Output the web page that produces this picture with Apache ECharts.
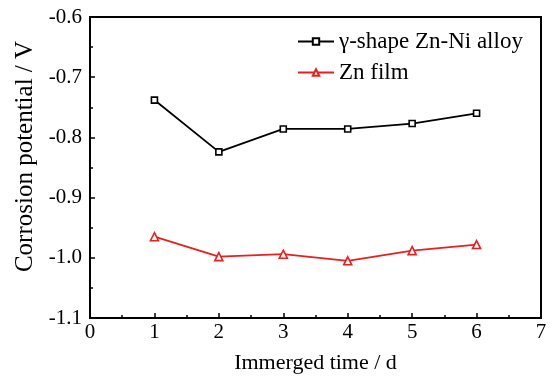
<!DOCTYPE html>
<html><head><meta charset="utf-8">
<script src="https://cdn.jsdelivr.net/npm/echarts@6/dist/echarts.min.js"></script>
<style>html,body{margin:0;padding:0;background:#fff}#c{width:552px;height:380px}</style>
</head><body><div id="c"></div>
<script>
const days = [1, 2, 3, 4, 5, 6];
const znNiAlloy = [-0.738, -0.824, -0.786, -0.786, -0.777, -0.760];
const znFilm = [-0.965, -0.998, -0.994, -1.005, -0.988, -0.978];
const seriesNames = ['\u03b3-shape Zn-Ni alloy', 'Zn film'];
const xTitle = 'Immerged time / d';
const yTitle = 'Corrosion potential / V';

const font = 'Liberation Serif';
const chart = echarts.init(document.getElementById('c'));
chart.setOption({
  backgroundColor: '#fff',
  animation: false,
  grid: {left: 90, right: 11, top: 17, bottom: 62, show: true, borderColor: '#000', borderWidth: 2, backgroundColor: 'transparent'},
  legend: {
    orient: 'vertical', left: 292, top: 25, itemWidth: 36, itemHeight: 8, itemGap: 8,
    textStyle: {fontFamily: font, fontSize: 23, color: '#000'},
    data: seriesNames
  },
  xAxis: {
    type: 'value', min: 0, max: 7, interval: 1,
    name: xTitle, nameLocation: 'middle', nameGap: 34,
    nameTextStyle: {fontFamily: font, fontSize: 22, color: '#000'},
    axisLine: {show: true, onZero: false, lineStyle: {color: '#000', width: 2}},
    axisTick: {show: true, inside: true, length: 5, lineStyle: {color: '#000', width: 1.5}},
    minorTick: {show: true, splitNumber: 2, length: 3, lineStyle: {color: '#000', width: 1.5}},
    axisLabel: {fontFamily: font, fontSize: 21, color: '#000', margin: 4},
    splitLine: {show: false}
  },
  yAxis: {
    type: 'value', min: -1.1, max: -0.6, interval: 0.1,
    name: yTitle, nameLocation: 'middle', nameGap: 52,
    nameTextStyle: {fontFamily: font, fontSize: 25, color: '#000', padding: [0, 0, 0, 22]},
    axisLine: {show: true, onZero: false, lineStyle: {color: '#000', width: 2}},
    axisTick: {show: true, inside: true, length: 5, lineStyle: {color: '#000', width: 1.5}},
    minorTick: {show: true, splitNumber: 2, length: 3, lineStyle: {color: '#000', width: 1.5}},
    axisLabel: {fontFamily: font, fontSize: 21, color: '#000', margin: 8, formatter: v => v.toFixed(1)},
    splitLine: {show: false}
  },
  series: [
    {name: seriesNames[0], type: 'line', data: days.map((d, i) => [d, znNiAlloy[i]]),
     symbol: 'rect', symbolSize: 6, showAllSymbol: true,
     lineStyle: {color: '#000', width: 1.8},
     itemStyle: {color: '#fff', borderColor: '#000', borderWidth: 1.6}},
    {name: seriesNames[1], type: 'line', data: days.map((d, i) => [d, znFilm[i]]),
     symbol: 'triangle', symbolSize: 8, showAllSymbol: true,
     lineStyle: {color: '#e8201e', width: 1.8},
     itemStyle: {color: '#fff', borderColor: '#e8201e', borderWidth: 1.6}}
  ]
});
</script></body></html>
